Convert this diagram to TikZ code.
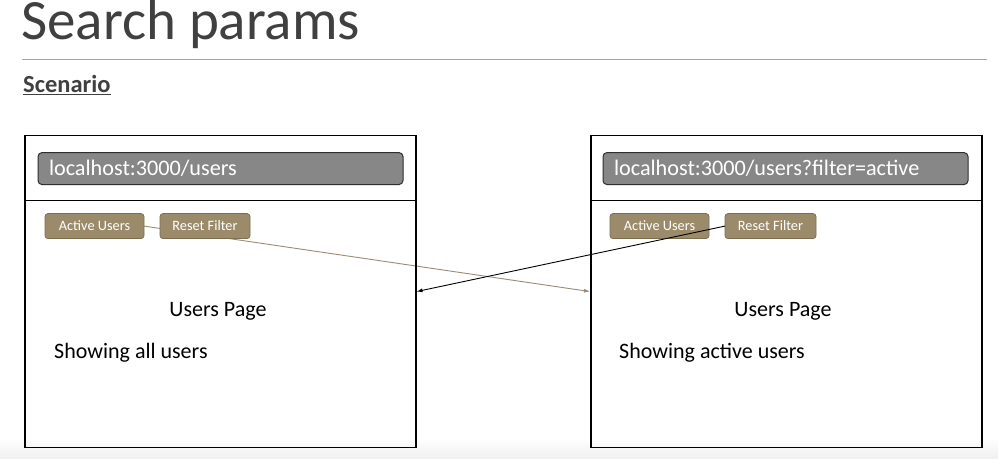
\documentclass[tikz,border=0pt]{standalone}
\usepackage{fontspec}
\setmainfont{Carlito}
\usetikzlibrary{arrows.meta}
\pgfdeclarelayer{links}
\pgfsetlayers{links,main}
\definecolor{titlegray}{HTML}{404040}
\definecolor{rulegray}{HTML}{A6A6A6}
\definecolor{urlfill}{HTML}{878787}
\definecolor{urlborder}{HTML}{2E2E2E}
\definecolor{btnfill}{HTML}{9C8B6B}
\definecolor{btnborder}{HTML}{7E6E50}
\definecolor{linkbrown}{HTML}{9A8C76}
\tikzset{
  page/.style={draw=black, line width=1.1pt, minimum width=391pt, minimum height=312pt, anchor=north west, outer sep=0pt, inner sep=0pt},
  urlbar/.style={draw=urlborder, line width=1pt, fill=urlfill, rounded corners=4pt, anchor=north west, minimum height=32pt, inner xsep=11pt, inner ysep=0pt, text width=343pt, align=left, text=white, font=\fontsize{22.2}{26}\selectfont, outer sep=0pt},
  btn/.style={draw=btnborder, line width=0.8pt, fill=btnfill, rounded corners=3pt, anchor=north west, minimum height=25pt, inner sep=0pt, text=white, font=\fontsize{14.3}{17}\selectfont, outer sep=0pt},
  pagetext/.style={font=\fontsize{22}{26}\selectfont, text=black, inner sep=0pt},
  brownlink/.style={draw=linkbrown, line width=0.9pt, -{Latex[length=6pt,width=4pt]}},
  blacklink/.style={draw=black, line width=0.9pt, -{Latex[length=6pt,width=4pt]}}
}
\begin{document}
\begin{tikzpicture}[x=1pt,y=-1pt]
\begin{pgfonlayer}{links}
\useasboundingbox (0,0) rectangle (998,457);
\fill[white] (0,0) rectangle (998,457);
\shade[top color=white, bottom color=black!6] (0,436) rectangle (998,457);
\end{pgfonlayer}
% title
\node[anchor=base west, inner sep=0pt, text=titlegray, font=\fontsize{57}{64}\selectfont] (title) at (21,38) {Search params};
\draw[rulegray, line width=0.8pt] (22,57.5) -- (987,57.5);
\node[anchor=base west, inner sep=0pt, text=titlegray, font=\fontsize{24.5}{28}\selectfont\bfseries] (scen) at (23,91) {\underline{Scenario}};
% left page
\node[page] (boxL) at (25,134) {};
\draw[line width=1.1pt] (25,199) -- (416,199);
\node[urlbar] (urlL) at (38,151) {localhost:3000/users};
\node[btn, minimum width=99pt] (auL) at (45,212) {Active Users};
\node[btn, minimum width=90pt] (rfL) at (160,212) {Reset Filter};
\node[pagetext, anchor=base] (upL) at (218,315) {Users Page};
\node[pagetext, anchor=base west] (shL) at (54,357) {Showing all users};
% right page
\node[page] (boxR) at (591,134) {};
\draw[line width=1.1pt] (591,199) -- (981,199);
\node[urlbar] (urlR) at (603,151) {localhost:3000/users?filter=active};
\node[btn, minimum width=99pt] (auR) at (610,212) {Active Users};
\node[btn, minimum width=91pt] (rfR) at (725,212) {Reset Filter};
\node[pagetext, anchor=base] (upR) at (783,315) {Users Page};
\node[pagetext, anchor=base west] (shR) at (619,357) {Showing active users};
% connectors
\coordinate (inR) at (590,290);
\coordinate (inL) at (416.5,290);
\begin{pgfonlayer}{links}
\draw[brownlink] (auL.east) -- (inR);
\end{pgfonlayer}
\draw[blacklink] (rfR.west) -- (inL);
\end{tikzpicture}
\end{document}
